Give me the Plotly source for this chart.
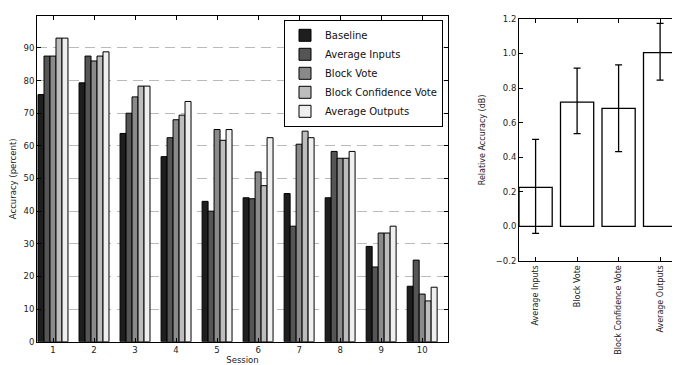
import plotly.graph_objects as go

sessions = [1, 2, 3, 4, 5, 6, 7, 8, 9, 10]
series_names = ["Baseline", "Average Inputs", "Block Vote", "Block Confidence Vote", "Average Outputs"]
baseline = [75.7, 79.3, 63.8, 56.7, 43.0, 44.1, 45.4, 44.1, 29.2, 17.0]
avg_inputs = [87.5, 87.5, 70.0, 62.5, 40.0, 43.8, 35.4, 58.3, 22.9, 25.0]
block_vote = [87.5, 86.0, 75.0, 68.0, 65.0, 52.0, 60.5, 56.2, 33.3, 14.6]
block_conf_vote = [93.0, 87.5, 78.3, 69.4, 61.7, 47.8, 64.5, 56.2, 33.3, 12.5]
avg_outputs = [93.0, 88.8, 78.3, 73.6, 65.0, 62.5, 62.5, 58.3, 35.4, 16.7]
series_values = [baseline, avg_inputs, block_vote, block_conf_vote, avg_outputs]
series_colors = ["#1e1e1e", "#555555", "#8a8a8a", "#bdbdbd", "#efefef"]

rel_methods = ["Average Inputs", "Block Vote", "Block Confidence Vote", "Average Outputs"]
rel_values = [0.226, 0.718, 0.682, 1.005]
rel_err_plus = [0.277, 0.197, 0.252, 0.169]
rel_err_minus = [0.266, 0.181, 0.250, 0.159]

FONT = "DejaVu Sans"
fig = go.Figure()

for name, vals, col in zip(series_names, series_values, series_colors):
    fig.add_trace(go.Bar(
        x=sessions, y=vals, name=name, xaxis="x", yaxis="y",
        marker=dict(color=col, line=dict(color="black", width=1)),
    ))

fig.add_trace(go.Bar(
    x=list(range(len(rel_methods))), y=rel_values, xaxis="x2", yaxis="y2",
    width=0.8, showlegend=False, offsetgroup="rel",
    marker=dict(color="white", line=dict(color="black", width=1.3)),
    error_y=dict(type="data", symmetric=False, array=rel_err_plus, arrayminus=rel_err_minus,
                 color="black", thickness=1.3, width=3.5),
))

W, H = 680, 365
def axis_common(size=8.5):
    return dict(showline=True, linecolor="black", linewidth=1, mirror="ticks",
                ticks="inside", ticklen=4, tickcolor="black", tickwidth=1,
                tickfont=dict(family=FONT, size=size, color="#222"), zeroline=False)

fig.update_layout(
    width=W, height=H,
    margin=dict(l=0, r=0, t=0, b=0),
    paper_bgcolor="white", plot_bgcolor="white",
    barmode="group", bargap=0.27, bargroupgap=0.0,
    font=dict(family=FONT, size=8.5, color="#222"),
    xaxis=dict(domain=[29 / W, 440 / W], range=[0.61, 10.63], tickvals=sessions,
               ticktext=[str(s) for s in sessions], showgrid=False,
               title=dict(text="Session", font=dict(family=FONT, size=8.5), standoff=1),
               **axis_common()),
    yaxis=dict(domain=[1 - 338 / H, 1 - 3 / H], range=[0, 99.8],
               tickvals=list(range(0, 100, 10)), showgrid=True, gridcolor="#bbbbbb",
               griddash="10px,6px", gridwidth=1,
               title=dict(text="Accuracy (percent)", font=dict(family=FONT, size=8.5), standoff=6),
               **axis_common()),
    xaxis2=dict(domain=[511 / W, 677 / W], range=[-0.4, 3.6],
                tickvals=list(range(len(rel_methods))), ticktext=rel_methods,
                tickangle=-90, showgrid=False, anchor="y2", **axis_common(8)),
    yaxis2=dict(domain=[1 - 255 / H, 1 - 6 / H], range=[-0.2, 1.2], anchor="x2",
                tickvals=[-0.2, 0.0, 0.2, 0.4, 0.6, 0.8, 1.0, 1.2], tickformat=".1f",
                showgrid=False,
                title=dict(text="Relative Accuracy (dB)", font=dict(family=FONT, size=8), standoff=8),
                **axis_common()),
    legend=dict(x=435 / W, y=1 - 7 / H, xanchor="right", yanchor="top",
                bgcolor="white", bordercolor="black", borderwidth=1,
                font=dict(family=FONT, size=10, color="#111"),
                tracegroupgap=0, itemwidth=30),
)

fig.write_html("out.html")
